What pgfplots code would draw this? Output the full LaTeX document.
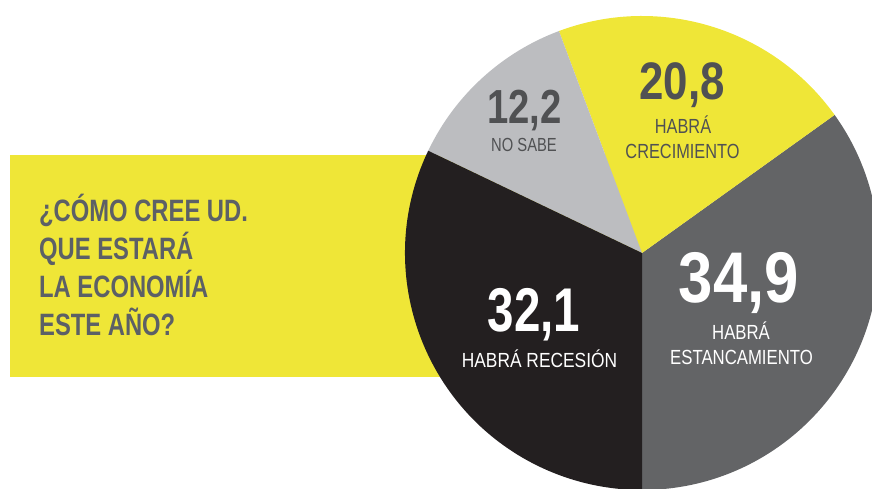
\documentclass[border=0pt]{standalone}
\usepackage{pgfplots}
\usepackage{pgfplotstable}
\pgfplotsset{compat=1.18}
\usepackage{fontspec}
\setmainfont{Liberation Sans}

\definecolor{sliceYellow}{RGB}{239,230,55}
\definecolor{sliceDark}{RGB}{99,100,102}
\definecolor{sliceLight}{RGB}{188,189,192}
\definecolor{sliceBlack}{RGB}{35,31,32}
\definecolor{titleGray}{RGB}{92,96,102}
\definecolor{numGray}{RGB}{80,81,83}

% share of answers, in percent, counter-clockwise from the bottom
\pgfplotstableread{
share colour
34.9 sliceDark
20.8 sliceYellow
12.2 sliceLight
32.1 sliceBlack
}\piedata

% \lbl{x-squeeze}{size}{text}
\newcommand\lbl[3]{\scalebox{#1}[1]{\fontsize{#2}{#2}\selectfont #3}}

\begin{document}
\begin{tikzpicture}
\begin{axis}[
  scale only axis, width=872bp, height=489bp,
  xmin=0, xmax=872, ymin=0, ymax=489,
  hide axis, clip=true,
]
\clip (axis cs:0,0) rectangle (axis cs:872,489);
\fill[sliceYellow] (axis cs:10,112) rectangle (axis cs:642,334);

\pgfplotstablegetrowsof{\piedata}
\pgfmathtruncatemacro\lastrow{\pgfplotsretval-1}
\def\angstart{-90}
\pgfplotsforeachungrouped \r in {0,...,\lastrow}{%
  \pgfplotstablegetelem{\r}{share}\of\piedata
  \let\share\pgfplotsretval
  \pgfplotstablegetelem{\r}{colour}\of\piedata
  \let\slicecol\pgfplotsretval
  \pgfmathsetmacro\angend{\angstart+3.6*\share}
  \edef\temp{\noexpand\fill[\slicecol] (axis cs:642,236) -- ++(\angstart:237bp)
    arc[start angle=\angstart, end angle=\angend, radius=237bp] -- cycle;}
  \temp
  \let\angstart\angend
}

% question
\node[anchor=base west, inner sep=0, text=titleGray] at (axis cs:39,267) {\lbl{0.77}{31}{\bfseries ¿CÓMO CREE UD.}};
\node[anchor=base west, inner sep=0, text=titleGray] at (axis cs:39,229) {\lbl{0.77}{31}{\bfseries QUE ESTARÁ}};
\node[anchor=base west, inner sep=0, text=titleGray] at (axis cs:39,191) {\lbl{0.77}{31}{\bfseries LA ECONOMÍA}};
\node[anchor=base west, inner sep=0, text=titleGray] at (axis cs:39,153) {\lbl{0.77}{31}{\bfseries ESTE AÑO?}};

% no sabe
\node[anchor=base, inner sep=0, text=numGray] at (axis cs:524.5,365) {\lbl{0.80}{48}{\bfseries 12,2}};
\node[anchor=base, inner sep=0, text=numGray] at (axis cs:524,337) {\lbl{0.78}{19}{NO SABE}};
% crecimiento
\node[anchor=base, inner sep=0, text=numGray] at (axis cs:682,389) {\lbl{0.83}{53}{\bfseries 20,8}};
\node[anchor=base, inner sep=0, text=numGray] at (axis cs:683,355) {\lbl{0.8}{20.5}{HABRÁ}};
\node[anchor=base, inner sep=0, text=numGray] at (axis cs:682.5,330) {\lbl{0.8}{20.5}{CRECIMIENTO}};
% estancamiento
\node[anchor=base, inner sep=0, text=white] at (axis cs:739,186) {\lbl{0.86}{72}{\bfseries 34,9}};
\node[anchor=base, inner sep=0, text=white] at (axis cs:741,149) {\lbl{0.82}{20.5}{HABRÁ}};
\node[anchor=base, inner sep=0, text=white] at (axis cs:741.5,124) {\lbl{0.82}{20.5}{ESTANCAMIENTO}};
% recesion
\node[anchor=base, inner sep=0, text=white] at (axis cs:534,157) {\lbl{0.77}{62}{\bfseries 32,1}};
\node[anchor=base, inner sep=0, text=white] at (axis cs:539.5,121) {\lbl{0.85}{20.5}{HABRÁ RECESIÓN}};
\end{axis}
\end{tikzpicture}
\end{document}
